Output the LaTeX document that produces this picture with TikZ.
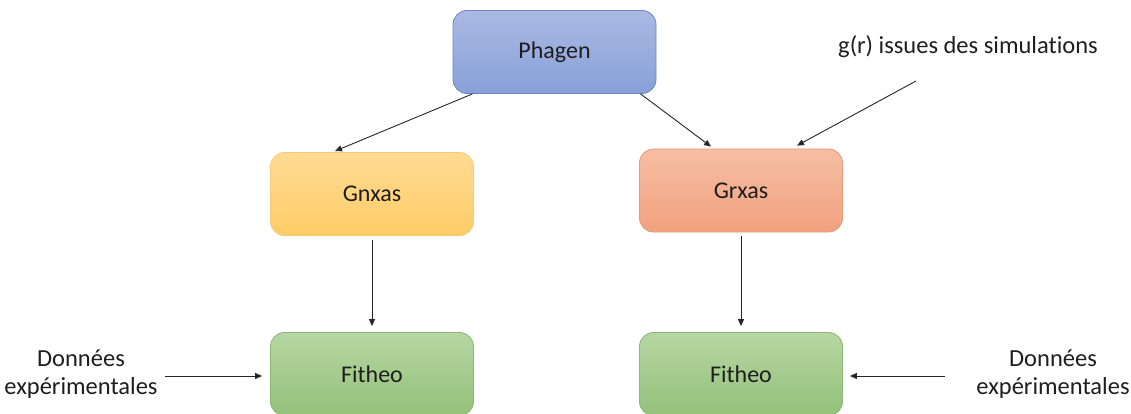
\documentclass[tikz,border=0pt]{standalone}
\usepackage{fontspec}
\setmainfont{Carlito}[Ligatures=NoCommon]
\usetikzlibrary{calc,arrows.meta}
\definecolor{txt}{RGB}{30,30,30}
\definecolor{blueT}{RGB}{170,185,228}
\definecolor{blueB}{RGB}{136,160,216}
\definecolor{blueD}{RGB}{110,132,196}
\definecolor{yelT}{RGB}{255,219,146}
\definecolor{yelB}{RGB}{255,204,104}
\definecolor{yelD}{RGB}{242,205,120}
\definecolor{redT}{RGB}{246,190,165}
\definecolor{redB}{RGB}{241,161,126}
\definecolor{redD}{RGB}{226,152,122}
\definecolor{grnT}{RGB}{182,214,163}
\definecolor{grnB}{RGB}{148,193,122}
\definecolor{grnD}{RGB}{142,181,120}
\tikzset{
  box/.style={draw, line width=0.8pt, rounded corners=14pt, inner sep=0pt,
    minimum width=203pt, minimum height=83pt, text=txt,
    font=\fontsize{24}{28}\selectfont},
  lbl/.style={text=txt, align=center, inner sep=0pt,
    font=\fontsize{24.5}{27.5}\selectfont},
  arr/.style={-{Triangle[length=7pt,width=6pt]}, line width=0.9pt, draw=black!85}
}
\begin{document}
\begin{tikzpicture}[x=1pt,y=-1pt]
\useasboundingbox (0,0) rectangle (1131,414);
\node[box, draw=blueD, top color=blueT, bottom color=blueB] (phagen) at (554.5,52) {Phagen};
\node[box, draw=yelD, top color=yelT, bottom color=yelB] (gnxas) at (372,194) {Gnxas};
\node[box, draw=redD, top color=redT, bottom color=redB] (grxas) at (741,190.5) {Grxas};
\node[box, draw=grnD, top color=grnT, bottom color=grnB] (fitL) at (372,374) {Fitheo};
\node[box, draw=grnD, top color=grnT, bottom color=grnB] (fitR) at (741,374) {Fitheo};
\node[lbl] (gr) at (968,47) {g(r) issues des simulations};
\node[lbl] (donL) at (81,374) {Données\\expérimentales};
\node[lbl] (donR) at (1053,374) {Données\\expérimentales};
\coordinate (grs) at (916,81);
\draw[arr] ($(phagen.south)+(-82,0)$) -- ($(gnxas.north)+(-37,-1)$);
\draw[arr] ($(phagen.south)+(86,0)$) -- ($(grxas.north)+(-30,-2)$);
\draw[arr] (grs) -- ($(grxas.north)+(56,-3)$);
\draw[arr] (gnxas.south) ++(0,4) -- ($(fitL.north)+(0,-6)$);
\draw[arr] (grxas.south) ++(0,4) -- ($(fitR.north)+(0,-6)$);
\draw[arr] (165,376) -- ($(fitL.west)+(-8,2)$);
\draw[arr] (945,376) -- ($(fitR.east)+(7,2)$);
\end{tikzpicture}
\end{document}
